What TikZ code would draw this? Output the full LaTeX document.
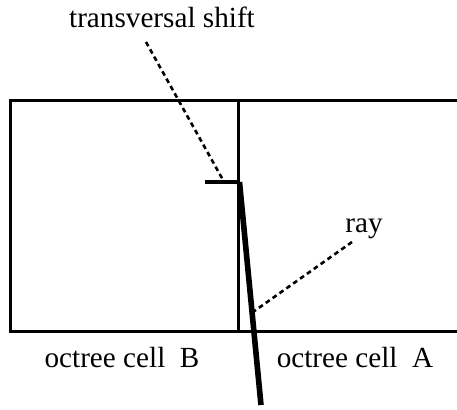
\documentclass[tikz,border=0pt]{standalone}
\usepackage{fontspec}
\setmainfont{Liberation Serif}
\usepackage{tikz}

\begin{document}
\begin{tikzpicture}[x=0.5pt,y=0.5pt,
  cellEdge/.style={line width=1.5pt},
  rayLine/.style={line width=2.8pt},
  shiftLine/.style={line width=2pt},
  leader/.style={line width=1.3pt,dash pattern=on 2.4pt off 1.8pt},
  caption/.style={anchor=base,inner sep=0pt,font=\rmfamily\fontsize{14.6}{17}\selectfont}]
\useasboundingbox (0,0) rectangle (457,409);
% octree cells, open on the right
\draw[cellEdge] (457,309) -- (10.5,309) -- (10.5,78) -- (457,78);
\draw[cellEdge] (239,309) -- (239,78);
% shifted ray
\coordinate (shiftStart) at (205,227);
\coordinate (kink) at (239.5,227);
\coordinate (rayEnd) at (261,4);
\draw[shiftLine] (shiftStart) -- (kink);
\draw[rayLine] (kink) -- (rayEnd);
% labels
\node[caption] (shiftLabel) at (162,382) {transversal shift};
\node[caption] (rayLabel) at (364,177) {ray};
\node[caption] (cellB) at (122,42) {octree cell\ \ B};
\node[caption] (cellA) at (355,42) {octree cell\ \ A};
% leaders
\coordinate (shiftTip) at (146,367);
\coordinate (shiftMark) at (223,229);
\coordinate (rayTip) at (352,167);
\coordinate (rayMark) at (253,97);
\draw[leader] (shiftTip) -- (shiftMark);
\draw[leader] (rayTip) -- (rayMark);
\end{tikzpicture}
\end{document}
